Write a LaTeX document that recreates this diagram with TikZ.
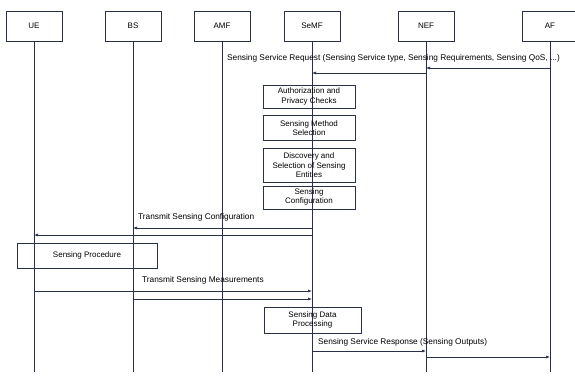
\documentclass[tikz,border=0pt]{standalone}
\usepackage{fontspec}
\setmainfont{Liberation Sans}
\usetikzlibrary{arrows.meta,positioning}
\definecolor{linecol}{RGB}{40,48,72}
\tikzset{
  entity/.style = {draw=linecol, line width=0.6pt, minimum width=56pt, minimum height=30pt,
                   font=\fontsize{8}{9}\selectfont},
  proc/.style   = {draw=linecol, line width=0.6pt, align=center, minimum width=92pt, inner sep=1pt,
                   font=\fontsize{8}{9.2}\selectfont},
  life/.style   = {draw=linecol, line width=0.6pt},
  msg/.style    = {draw=linecol, line width=0.6pt, -{Latex[length=4pt,width=3pt]}},
  lbl/.style    = {anchor=west, inner sep=0pt, font=\fontsize{8.3}{9}\selectfont},
}

\begin{document}
\begin{tikzpicture}[x=1pt,y=-1pt]
  \useasboundingbox (0,0) rectangle (575,376);
  %entities on top
  \node[entity] (ue)   at (34,26)  {UE};
  \node[entity] (bs)   at (133,26) {BS};
  \node[entity] (amf)  at (222,26) {AMF};
  \node[entity] (semf) at (312,26) {SeMF};
  \node[entity] (nef)  at (426,26) {NEF};
  \node[entity] (af)   at (550,26) {AF};
  \foreach \n in {ue,bs,amf,semf,nef,af}
    \draw[life] (\n.south) -- (\n |- 0,372);

  %request
  \node[lbl] (req_lbl) at (227,58) {Sensing Service Request (Sensing Service type, Sensing Requirements, Sensing QoS, ...)};
  \draw[msg] (af |- 0,68) -- (nef |- 0,68);
  \draw[msg] (nef |- 0,73) -- (semf |- 0,73);

  \node[proc, minimum height=23pt] (auth) at (309,96.5) {Authorization and\\Privacy Checks};
  \node[proc, minimum height=25pt, below=7pt of auth] (method) {Sensing Method\\Selection};
  \node[proc, minimum height=34pt, below=7pt of method] (disc) {Discovery and\\Selection of Sensing\\Entities};
  \node[proc, minimum height=23pt, below=3pt of disc] (config) {Sensing\\Configuration};

  %configuration
  \node[lbl] (conf_lbl) at (138,217) {Transmit Sensing Configuration};
  \draw[msg] (semf |- 0,228) -- (bs |- 0,228);
  \draw[msg] (semf |- 0,235) -- (ue |- 0,235);
  \node[proc, minimum width=140pt, minimum height=25pt] (sensproc) at (87,255.5) {Sensing Procedure};

  %measurements
  \node[lbl] (meas_lbl) at (142,280) {Transmit Sensing Measurements};
  \draw[msg] (ue |- 0,291) -- (semf |- 0,291);
  \draw[msg] (bs |- 0,299) -- (semf |- 0,299);
  \node[proc, minimum width=97pt, minimum height=26pt] (dataproc) at (312.5,320) {Sensing Data\\Processing};

  %response
  \node[lbl] (resp_lbl) at (318,342) {Sensing Service Response (Sensing Outputs)};
  \draw[msg] (semf |- 0,351) -- (nef |- 0,351);
  \draw[msg] (nef |- 0,357) -- (af |- 0,357);
\end{tikzpicture}
\end{document}
